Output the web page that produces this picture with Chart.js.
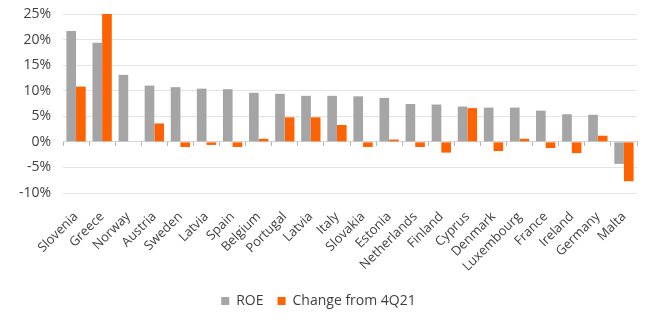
<!DOCTYPE html>
<html>
<head>
    <title>Bank ROE by country</title>
    <style>
        body {
            margin: 0;
            background: #ffffff;
        }
        #wrap {
            width: 651px;
            height: 322px;
        }
    </style>
    <script src="https://cdn.jsdelivr.net/npm/chart.js"></script>
</head>
<body>
    <div id="wrap"><canvas id="roeChart"></canvas></div>

    <script>
        const countries = ['Slovenia', 'Greece', 'Norway', 'Austria', 'Sweden', 'Latvia', 'Spain', 'Belgium',
            'Portugal', 'Latvia', 'Italy', 'Slovakia', 'Estonia', 'Netherlands', 'Finland', 'Cyprus',
            'Denmark', 'Luxembourg', 'France', 'Ireland', 'Germany', 'Malta'];
        const roe = [21.7, 19.4, 13.1, 11.0, 10.7, 10.4, 10.3, 9.6, 9.4, 9.0, 9.0, 8.9, 8.6, 7.4, 7.3, 6.9,
            6.7, 6.7, 6.1, 5.4, 5.3, -4.3];
        const changeFrom4Q21 = [10.8, 25.0, 0, 3.6, -1.0, -0.6, -1.0, 0.6, 4.8, 4.8, 3.3, -1.0, 0.45, -1.0,
            -2.1, 6.6, -1.8, 0.6, -1.2, -2.2, 1.2, -7.7];
        const seriesNames = ['ROE', 'Change from 4Q21'];

        const fontFamily = '"Open Sans", Arial, sans-serif';
        const textColor = '#404040';

        new Chart(document.getElementById('roeChart'), {
            type: 'bar',
            data: {
                labels: countries,
                datasets: [{
                    label: seriesNames[0],
                    data: roe,
                    backgroundColor: '#a5a5a5'
                }, {
                    label: seriesNames[1],
                    data: changeFrom4Q21,
                    backgroundColor: '#ff6200'
                }]
            },
            options: {
                responsive: true,
                maintainAspectRatio: false,
                animation: false,
                datasets: {
                    bar: {
                        categoryPercentage: 0.74,
                        barPercentage: 1.0
                    }
                },
                layout: {
                    padding: { top: 14, right: 14, left: 0, bottom: 4 }
                },
                scales: {
                    x: {
                        grid: { display: false },
                        border: { display: false },
                        ticks: {
                            color: textColor,
                            font: { family: fontFamily, size: 13 },
                            minRotation: 45,
                            maxRotation: 45,
                            autoSkip: false,
                            padding: 8
                        },
                        afterFit: scale => { scale.height = 87; }
                    },
                    // zero line with small tick marks between the countries
                    x2: {
                        type: 'category',
                        position: { y: 0 },
                        offset: true,
                        grid: {
                            offset: true,
                            drawOnChartArea: false,
                            drawTicks: true,
                            tickLength: 4,
                            tickColor: '#b5b5b5'
                        },
                        border: { display: true, color: '#d4d4d4', width: 1 },
                        ticks: { display: false }
                    },
                    y: {
                        min: -10,
                        max: 25,
                        grid: {
                            color: '#e3e3e3',
                            drawTicks: false
                        },
                        border: { display: false },
                        ticks: {
                            stepSize: 5,
                            padding: 12,
                            color: textColor,
                            font: { family: fontFamily, size: 14 },
                            callback: v => v + '%'
                        },
                        afterFit: scale => {
                            scale.width = 63;
                            scale.paddingTop = 0;
                            scale.paddingBottom = 0;
                        }
                    }
                },
                plugins: {
                    legend: {
                        position: 'bottom',
                        labels: {
                            boxWidth: 8,
                            boxHeight: 8,
                            padding: 14,
                            color: textColor,
                            font: { family: fontFamily, size: 14 }
                        }
                    },
                    tooltip: { enabled: false }
                }
            }
        });
    </script>
</body>
</html>
